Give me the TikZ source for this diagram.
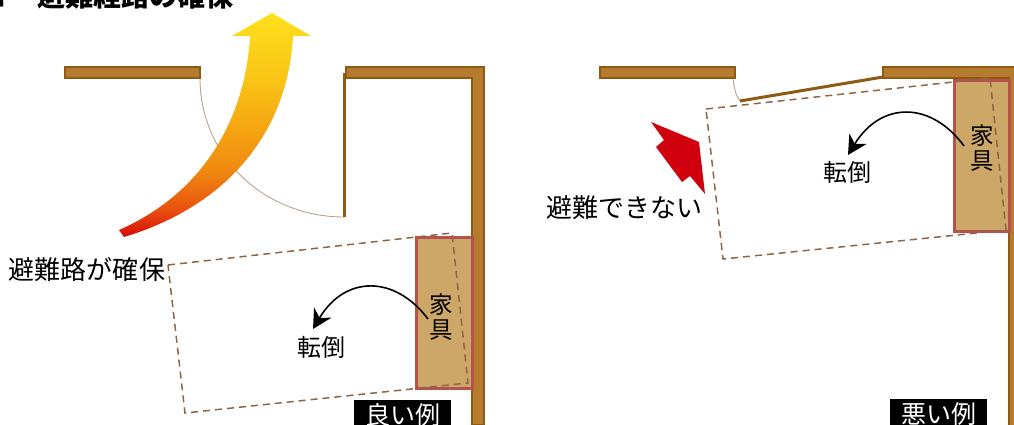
\documentclass[tikz,border=0pt]{standalone}
\usepackage{fontspec}
\setmainfont{Noto Sans CJK JP}
\usepackage{tikz}
\usetikzlibrary{arrows.meta,shadings}

\definecolor{wallfill}{HTML}{B57C2F}
\definecolor{walledge}{HTML}{8F5A14}
\definecolor{doorline}{HTML}{B7A48E}
\definecolor{woodfill}{HTML}{CDA768}
\definecolor{woodedge}{HTML}{B5524C}
\definecolor{swing}{HTML}{8F6548}
\definecolor{alarm}{HTML}{D0000F}
\definecolor{esca}{HTML}{D40A0A}
\definecolor{escb}{HTML}{E8500F}
\definecolor{escc}{HTML}{F08A10}
\definecolor{escd}{HTML}{F5A412}
\definecolor{esce}{HTML}{F9C416}
\definecolor{escf}{HTML}{FFE01C}

\pgfdeclareverticalshading{escape}{100bp}{
  color(0bp)=(esca);
  color(25bp)=(esca);
  color(31bp)=(escb);
  color(40bp)=(escc);
  color(49bp)=(escd);
  color(60bp)=(esce);
  color(75bp)=(escf);
  color(100bp)=(escf)}

\begin{document}
\begin{tikzpicture}[x=1pt,y=-1pt,semithick]
  \tikzstyle{wall}=[fill=wallfill,draw=walledge,line width=1.4pt]
  \tikzstyle{panel}=[walledge,line width=3pt]
  \tikzstyle{door}=[doorline,line width=0.9pt]
  \tikzstyle{wood}=[fill=woodfill,draw=woodedge,line width=2.6pt]
  \tikzstyle{tilted}=[swing,line width=1.5pt,dash pattern=on 7pt off 5pt]
  \tikzstyle{fall}=[-{Stealth[length=19pt,width=20pt,inset=6pt]},line width=1.6pt,black]
  \tikzstyle{word}=[inner sep=0pt,font=\fontsize{24}{26}\selectfont]
  \tikzstyle{note}=[inner sep=0pt,font=\fontsize{26}{28}\selectfont]
  \tikzstyle{tag}=[fill=black,text=white,inner sep=0pt,minimum width=97pt,minimum height=30pt,
                   font=\fontsize{25}{27}\selectfont]

  \useasboundingbox (0,0) rectangle (1014,425);
  \clip (0,0) rectangle (1014,425);

  \node[anchor=west,inner sep=0pt,font=\fontsize{28}{30}\selectfont\bfseries] (title) at (-22,-4)
    {■\hspace{31pt}避難経路の確保};

  % good example
  \draw[door] (200,78) .. controls (200,157) and (265,217) .. (344,217);
  \shade[shading=escape] (272,13) -- (311,36) -- (293,36)
    .. controls (288,130) and (230,205) .. (124,237) -- (119,230)
    .. controls (210,190) and (246,110) .. (250,36) -- (232,36) -- cycle;
  \draw[wall] (65,67) rectangle (200,78);
  \draw[panel] (344.5,73) -- (344.5,217);
  \draw[wall] (346,67) -- (484,67) -- (484,425) -- (472,425) -- (472,78) -- (346,78) -- cycle;
  \node[wood,draw,anchor=north west,minimum width=56pt,minimum height=151pt,inner sep=0pt] (woodL) at (415,236) {};
  \draw[tilted] (168,265) -- (452,233) -- (468,383) -- (185,413) -- cycle;

  \node[word,align=center,font=\fontsize{23.5}{25}\selectfont] (kaguL) at (441,317) {家\\具};
  \node[word] (fallL) at (321,347) {転倒};
  \coordinate (fromL) at (428,319);
  \coordinate (toL) at (313,329);
  \draw[fall] (fromL) .. controls (395,275) and (345,275) .. (toL);
  \node[note] (routeL) at (87,270) {避難路が確保};
  \node[tag] (tagL) at (402.5,415) {良い例};

  % bad example
  \draw[door] (733,78) .. controls (734,88) and (736,96) .. (740,101);
  \draw[wall] (600,67) rectangle (735,78);
  \draw[walledge,line width=3pt] (740,101) -- (883,77);
  \draw[wall] (883,67) -- (1020,67) -- (1020,430) -- (1009,430) -- (1009,78) -- (883,78) -- cycle;
  \node[wood,draw,anchor=north west,minimum width=55pt,minimum height=151pt,inner sep=0pt] (woodR) at (953,79) {};
  \draw[tilted] (706,109) -- (990,78) -- (1006,230) -- (723,259) -- cycle;
  \fill[alarm] (651,122) -- (699,142) -- (705,194) -- (690,176) -- (682,182) -- (656,147) -- (664,140) -- cycle;

  \node[word,align=center,font=\fontsize{23.5}{25}\selectfont] (kaguR) at (982,148) {家\\具};
  \node[word] (fallR) at (847,172) {転倒};
  \coordinate (fromR) at (964,146);
  \coordinate (toR) at (848,155);
  \draw[fall] (fromR) .. controls (931,101) and (881,101) .. (toR);
  \node[note] (routeR) at (624,208) {避難できない};
  \node[tag] (tagR) at (938.5,414) {悪い例};
\end{tikzpicture}
\end{document}
